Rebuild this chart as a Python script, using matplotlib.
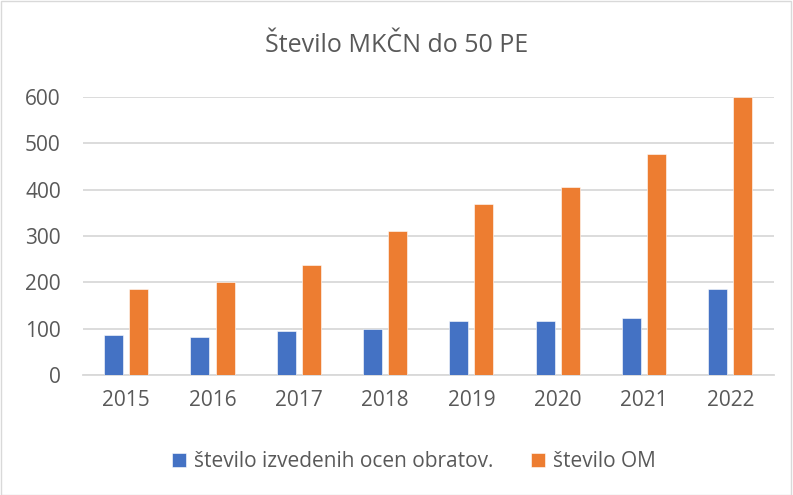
import numpy as np
import matplotlib.pyplot as plt
from matplotlib.patches import Rectangle

# podatki
leta = ['2015', '2016', '2017', '2018', '2019', '2020', '2021', '2022']
ocene_obratov = [87, 81, 94, 99, 117, 116, 123, 186]
stevilo_om = [186, 201, 237, 311, 370, 405, 478, 600]

plt.rcParams['font.family'] = ['Open Sans', 'DejaVu Sans']
siva = '#595959'

fig = plt.figure(figsize=(7.93, 4.95), dpi=100)
ax = fig.add_axes([0.1047, 0.2424, 0.8708, 0.5616])

x = np.arange(len(leta))
sirina = 0.22
ax.bar(x - 0.145, ocene_obratov, sirina, color='#4472C4', edgecolor='white',
       linewidth=0.4, label='število izvedenih ocen obratov.', zorder=3)
ax.bar(x + 0.145, stevilo_om, sirina, color='#ED7D31', edgecolor='white',
       linewidth=0.4, label='število OM', zorder=3)

ax.set_xlim(-0.5, len(leta) - 0.5)
ax.set_ylim(0, 600)
ax.set_yticks(range(0, 601, 100))
ax.set_xticks(x)
ax.set_xticklabels(leta)
ax.yaxis.grid(True, color='#D9D9D9', linewidth=1.3, zorder=0)
for s in ['top', 'right', 'left']:
    ax.spines[s].set_visible(False)
ax.spines['bottom'].set_color('#D9D9D9')
ax.spines['bottom'].set_linewidth(1.3)
ax.tick_params(axis='both', length=0, labelsize=15, labelcolor=siva)
ax.tick_params(axis='x', pad=11)
ax.tick_params(axis='y', pad=16)

fig.text(0.5, 0.908, 'Število MKČN do 50 PE', ha='center', va='center',
         fontsize=18, color=siva)

fig.legend(loc='center', bbox_to_anchor=(0.522, 0.067), ncol=2, frameon=False,
           fontsize=15, labelcolor=siva, handlelength=0.65, handleheight=0.65,
           handletextpad=0.4, columnspacing=1.8)

# okvir grafikona
fig.patches.append(Rectangle((0.001, 0.001), 0.997, 0.997, transform=fig.transFigure,
                             fill=False, edgecolor='#D9D9D9', linewidth=1))

fig.savefig('out.png', dpi=100)
